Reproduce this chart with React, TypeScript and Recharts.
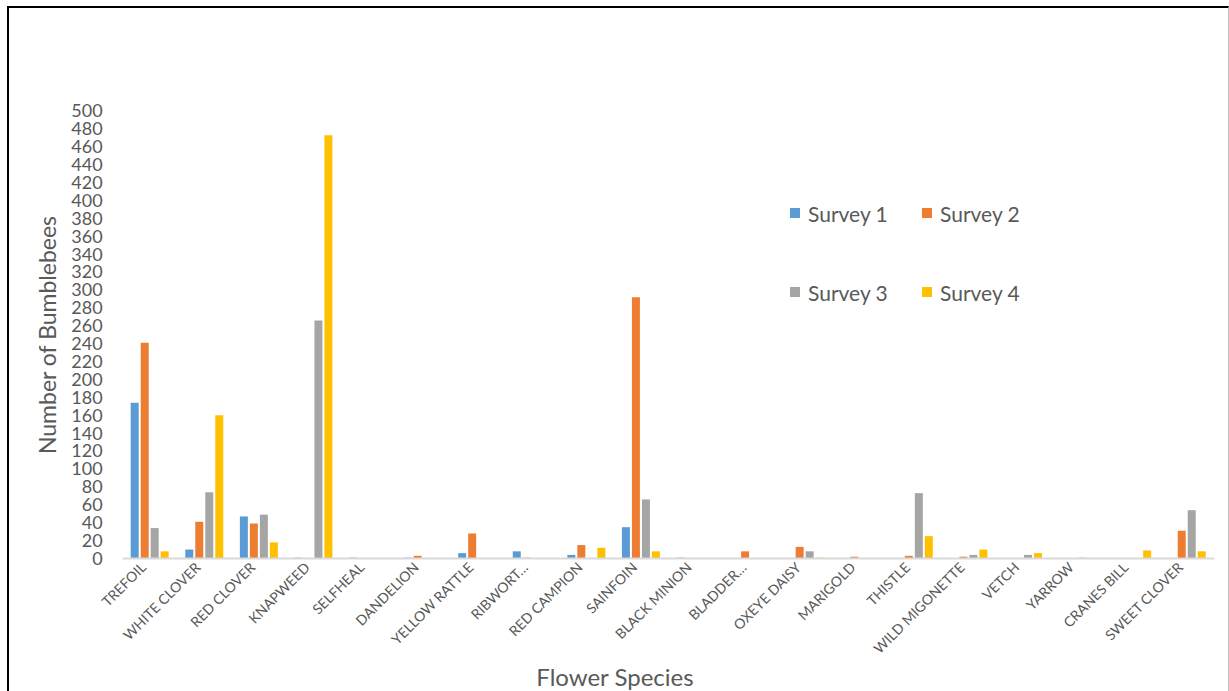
import React from 'react';
import { BarChart, Bar, XAxis, YAxis, Legend } from 'recharts';

// Bumblebee counts per flower species, four surveys
const species = [
  'TREFOIL', 'WHITE CLOVER', 'RED CLOVER', 'KNAPWEED', 'SELFHEAL', 'DANDELION',
  'YELLOW RATTLE', 'RIBWORT…', 'RED CAMPION', 'SAINFOIN', 'BLACK MINION', 'BLADDER…',
  'OXEYE DAISY', 'MARIGOLD', 'THISTLE', 'WILD MIGONETTE', 'VETCH', 'YARROW',
  'CRANES BILL', 'SWEET CLOVER',
];
const survey1 = [174, 10, 47, 1, 1, 1, 6, 8, 4, 35, 1, 0, 0, 0, 0, 0, 0, 0, 0, 0];
const survey2 = [241, 41, 39, 0, 0, 3, 28, 1, 15, 292, 0, 8, 13, 2, 3, 2, 0, 0, 0, 31];
const survey3 = [34, 74, 49, 266, 0, 0, 0, 0, 0, 66, 0, 0, 8, 0, 73, 4, 4, 1, 0, 54];
const survey4 = [8, 160, 18, 473, 0, 0, 0, 0, 12, 8, 0, 0, 1, 0, 25, 10, 6, 0, 9, 8];

const seriesNames = ['Survey 1', 'Survey 2', 'Survey 3', 'Survey 4'];
const seriesKeys = ['s1', 's2', 's3', 's4'];
const COLORS = ['#5B9BD5', '#ED7D31', '#A5A5A5', '#FFC000'];

const yTicks = Array.from({ length: 26 }, (_, i) => i * 20);

const data = species.map((name, i) => ({
  name,
  s1: survey1[i],
  s2: survey2[i],
  s3: survey3[i],
  s4: survey4[i],
}));

const FONT = 'Lato, "Open Sans", sans-serif';
const TEXT = '#595959';

// Slanted category label, anchored at its end under the group
const SpeciesTick = (props: any) => {
  const { x, y, payload } = props;
  return (
    <g transform={`translate(${x - 3},${y + 10})`}>
      <text textAnchor="end" transform="rotate(-45)" fill={TEXT} fontSize={14} fontFamily={FONT}>
        {payload.value}
      </text>
    </g>
  );
};

// Two-by-two legend block
const LegendGrid = () => (
  <div
    style={{
      display: 'grid',
      gridTemplateColumns: '132px 132px',
      rowGap: 53,
      fontFamily: FONT,
      fontSize: 21,
      color: TEXT,
    }}
  >
    {seriesNames.map((n, i) => (
      <div key={n} style={{ display: 'flex', alignItems: 'center', height: 26 }}>
        <span style={{ width: 10, height: 10, background: COLORS[i], marginRight: 8, display: 'inline-block' }} />
        <span>{n}</span>
      </div>
    ))}
  </div>
);

export default function App() {
  return (
    <div style={{ position: 'absolute', left: 0, top: 0, width: 1229, height: 691, background: '#fff', overflow: 'hidden' }}>
      <div
        style={{
          position: 'absolute',
          left: 7,
          top: 6,
          width: 1222,
          height: 700,
          boxSizing: 'border-box',
          borderLeft: '2px solid #000',
          borderTop: '2px solid #000',
          borderRight: '1px solid #BFBFBF',
        }}
      />
      <BarChart
        width={1229}
        height={691}
        data={data}
        margin={{ top: 111, right: 14.7, bottom: 12.5, left: 0 }}
        barSize={8}
        barGap={2}
        style={{ position: 'absolute', left: 0, top: 0 }}
      >
        <XAxis
          dataKey="name"
          interval={0}
          height={120}
          tickLine={false}
          tickSize={0}
          tickMargin={0}
          axisLine={{ stroke: '#D9D9D9', strokeWidth: 2 }}
          tick={<SpeciesTick />}
          label={{
            content: () => (
              <text x={615} y={676} textAnchor="middle" dominantBaseline="central" fill={TEXT} fontSize={24} fontFamily={FONT}>
                Flower Species
              </text>
            ),
          }}
        />
        <YAxis
          width={122.7}
          domain={[0, 500]}
          ticks={yTicks}
          interval={0}
          axisLine={false}
          tickLine={false}
          tickSize={0}
          tickMargin={20}
          tick={{ fill: TEXT, fontSize: 18, fontFamily: FONT }}
          label={{
            content: () => (
              <text
                transform="translate(47,335) rotate(-90)"
                textAnchor="middle"
                dominantBaseline="central"
                fill={TEXT}
                fontSize={23}
                fontFamily={FONT}
              >
                Number of Bumblebees
              </text>
            ),
          }}
        />
        <Legend
          layout="horizontal"
          verticalAlign="middle"
          align="center"
          content={<LegendGrid />}
          wrapperStyle={{ position: 'absolute', left: 790, top: 200, width: 270 }}
        />
        {seriesKeys.map((k, i) => (
          <Bar key={k} dataKey={k} name={seriesNames[i]} fill={COLORS[i]} isAnimationActive={false} />
        ))}
      </BarChart>
    </div>
  );
}
